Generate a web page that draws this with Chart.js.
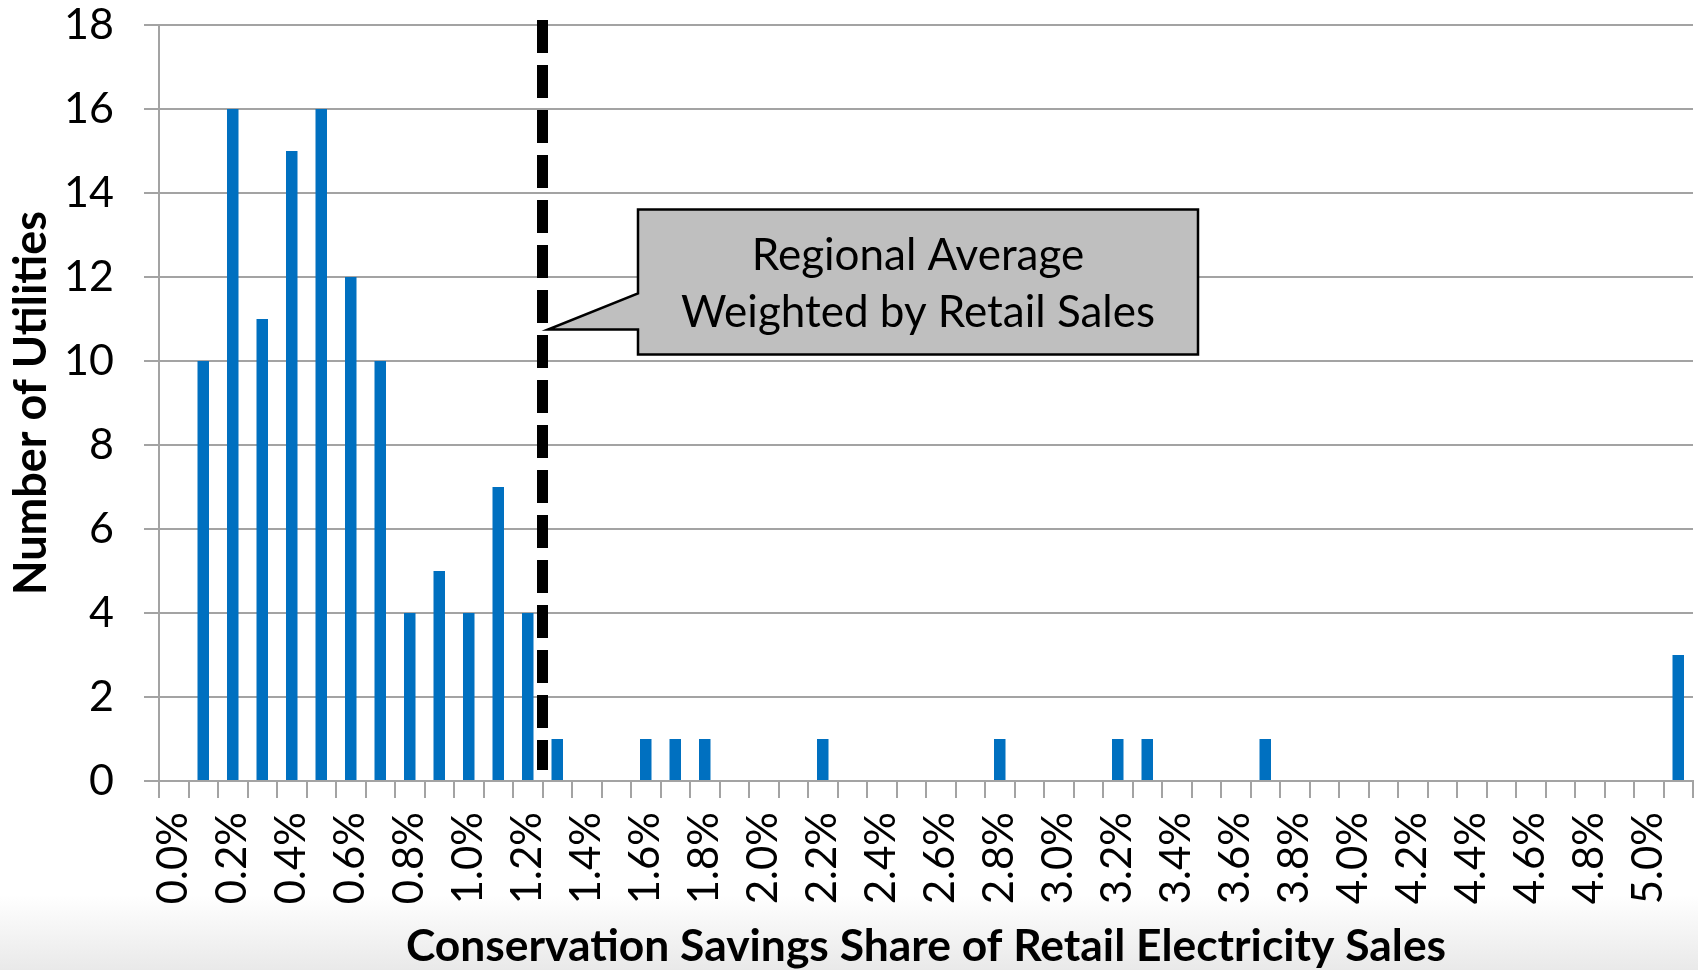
<!DOCTYPE html>
<html>
<head>
<meta charset="utf-8">
<title>Conservation Savings Share of Retail Electricity Sales</title>
<script src="https://cdn.jsdelivr.net/npm/chart.js@4/dist/chart.umd.min.js"></script>
<style>
    html, body {
        margin: 0;
        padding: 0;
        width: 1698px;
        height: 970px;
        overflow: hidden;
        background: linear-gradient(to bottom, #ffffff 0px, #ffffff 895px, #e9e9e9 970px);
    }
    #chart-wrap { position: relative; width: 1698px; height: 970px; }
</style>
</head>
<body>
<div id="chart-wrap"><canvas id="histogram" width="1698" height="970"></canvas></div>
<script>
// Bins of conservation savings share (0.1% wide)
const bins = [
    '0.0%', '0.1%', '0.2%', '0.3%', '0.4%', '0.5%', '0.6%', '0.7%', '0.8%', '0.9%',
    '1.0%', '1.1%', '1.2%', '1.3%', '1.4%', '1.5%', '1.6%', '1.7%', '1.8%', '1.9%',
    '2.0%', '2.1%', '2.2%', '2.3%', '2.4%', '2.5%', '2.6%', '2.7%', '2.8%', '2.9%',
    '3.0%', '3.1%', '3.2%', '3.3%', '3.4%', '3.5%', '3.6%', '3.7%', '3.8%', '3.9%',
    '4.0%', '4.1%', '4.2%', '4.3%', '4.4%', '4.5%', '4.6%', '4.7%', '4.8%', '4.9%',
    '5.0%', '5.1%'
];

// Number of utilities in each bin
const utilityCounts = [
    0, 10, 16, 11, 15, 16, 12, 10, 4, 5,
    4, 7, 4, 1, 0, 0, 1, 1, 1, 0,
    0, 0, 1, 0, 0, 0, 0, 0, 1, 0,
    0, 0, 1, 1, 0, 0, 0, 1, 0, 0,
    0, 0, 0, 0, 0, 0, 0, 0, 0, 0,
    0, 3
];

// Only every other bin gets a label on the axis
const tickLabels = [
    '0.0%', '0.2%', '0.4%', '0.6%', '0.8%', '1.0%', '1.2%', '1.4%', '1.6%', '1.8%',
    '2.0%', '2.2%', '2.4%', '2.6%', '2.8%', '3.0%', '3.2%', '3.4%', '3.6%', '3.8%',
    '4.0%', '4.2%', '4.4%', '4.6%', '4.8%', '5.0%'
];

const yTicks = [0, 2, 4, 6, 8, 10, 12, 14, 16, 18];

// Regional average weighted by retail sales (in %), and the bin width (in %)
const regionalAverage = 1.25;
const binWidth = 0.1;
const calloutLines = ['Regional Average', 'Weighted by Retail Sales'];

const AXIS_GRAY = '#a3a3a3';
const FONT = 'Lato';

/**
 * Desenha a linha tracejada da média regional e o balão explicativo.
 */
const regionalAveragePlugin = {
    id: 'regionalAverage',
    afterDraw(chart) {
        const { ctx, scales: { x, y } } = chart;
        const lineX = x.getPixelForValue(regionalAverage / binWidth);
        const lineW = 11;

        // dashed vertical line
        ctx.save();
        ctx.strokeStyle = '#000';
        ctx.lineWidth = lineW;
        ctx.setLineDash([33, 12]);
        ctx.beginPath();
        ctx.moveTo(lineX, y.getPixelForValue(yTicks[yTicks.length - 1]) - 5);
        ctx.lineTo(lineX, y.getPixelForValue(0) - 11);
        ctx.stroke();
        ctx.restore();

        // callout box with pointer touching the line
        const tipX = lineX + lineW / 2;
        const tipY = y.getPixelForValue(10.75);
        const left = tipX + 90;
        const right = left + 560;
        const top = tipY - 120;
        const bottom = top + 145;

        ctx.save();
        ctx.beginPath();
        ctx.moveTo(left, top);
        ctx.lineTo(right, top);
        ctx.lineTo(right, bottom);
        ctx.lineTo(left, bottom);
        ctx.lineTo(left, tipY);
        ctx.lineTo(tipX, tipY);
        ctx.lineTo(left, tipY - 36);
        ctx.closePath();
        ctx.fillStyle = '#bfbfbf';
        ctx.fill();
        ctx.lineWidth = 2.5;
        ctx.strokeStyle = '#000';
        ctx.lineJoin = 'miter';
        ctx.stroke();

        ctx.fillStyle = '#000';
        ctx.font = `44px ${FONT}`;
        ctx.textAlign = 'center';
        ctx.textBaseline = 'alphabetic';
        const cx = (left + right) / 2;
        ctx.fillText(calloutLines[0], cx, tipY - 60);
        ctx.fillText(calloutLines[1], cx, tipY - 3);
        ctx.restore();
    }
};

const canvas = document.getElementById('histogram');

new Chart(canvas, {
    type: 'bar',
    data: {
        labels: bins,
        datasets: [{
            label: 'Number of Utilities',
            data: utilityCounts,
            backgroundColor: '#0070c0',
            borderWidth: 0,
            barPercentage: 0.39,
            categoryPercentage: 1.0
        }]
    },
    options: {
        responsive: false,
        maintainAspectRatio: false,
        devicePixelRatio: 1,
        animation: false,
        layout: { padding: { top: 25, right: 5, left: 0, bottom: 0 } },
        plugins: {
            legend: { display: false },
            tooltip: { enabled: false }
        },
        scales: {
            x: {
                offset: true,
                grid: {
                    offset: true,
                    drawOnChartArea: false,
                    drawTicks: true,
                    tickLength: 17,
                    color: AXIS_GRAY,
                    lineWidth: 2
                },
                border: { display: true, color: AXIS_GRAY, width: 2 },
                ticks: {
                    autoSkip: false,
                    minRotation: 90,
                    maxRotation: 90,
                    padding: 14,
                    color: '#000',
                    font: { family: FONT, size: 42 },
                    callback: (value, index) => tickLabels.includes(bins[index]) ? bins[index] : ''
                },
                title: {
                    display: true,
                    text: 'Conservation Savings Share of Retail Electricity Sales',
                    color: '#000',
                    font: { family: FONT, size: 44.4, weight: 'bold', lineHeight: 1.0 },
                    padding: { top: 0, bottom: 1 }
                },
                afterFit: (scale) => {
                    scale.height = 189;
                    scale.paddingLeft = 0;
                    scale.paddingRight = 0;
                }
            },
            y: {
                min: 0,
                max: 18,
                afterBuildTicks: (scale) => { scale.ticks = yTicks.map(v => ({ value: v })); },
                grid: {
                    color: AXIS_GRAY,
                    lineWidth: 2,
                    drawTicks: true,
                    tickLength: 15
                },
                border: { display: true, color: AXIS_GRAY, width: 2 },
                ticks: {
                    color: '#000',
                    padding: 30,
                    font: { family: FONT, size: 43 }
                },
                title: {
                    display: true,
                    text: 'Number of Utilities',
                    color: '#000',
                    font: { family: FONT, size: 45, weight: 'bold', lineHeight: 1.0 },
                    padding: { top: 9, bottom: 0 }
                },
                afterFit: (scale) => {
                    scale.width = 159;
                    scale.paddingTop = 0;
                    scale.paddingBottom = 0;
                }
            }
        }
    },
    plugins: [regionalAveragePlugin]
});
</script>
</body>
</html>
